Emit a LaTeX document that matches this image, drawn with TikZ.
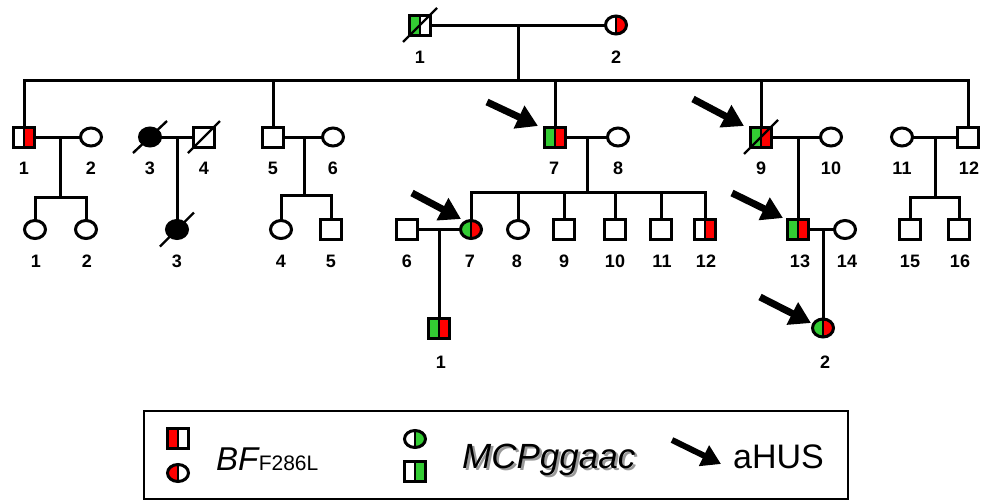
\documentclass[tikz,border=0pt]{standalone}
\usepackage{fontspec}
\setmainfont{Liberation Sans}
\usetikzlibrary{shapes.geometric,arrows.meta}
\definecolor{gsgreen}{RGB}{51,204,51}
\definecolor{gsred}{RGB}{255,0,0}
% text with a soft grey drop shadow behind it
\newcommand{\shadowed}[1]{\rlap{\hspace{2.5pt}\raisebox{-2.5pt}{\textcolor{black!40}{#1}}}#1}
\begin{document}
\begin{tikzpicture}[x=1pt,y=-1pt,
  ind/.style={draw=black,line width=3pt,fill=white,inner sep=0pt,outer sep=0pt},
  male/.style={ind,rectangle,minimum width=21pt,minimum height=20pt},
  female/.style={ind,ellipse,minimum width=21pt,minimum height=18pt},
  affected/.style={fill=black},
  halves/.style 2 args={path picture={
     \fill[#1] (path picture bounding box.south west) rectangle (path picture bounding box.north);
     \fill[#2] (path picture bounding box.south) rectangle (path picture bounding box.north east);
     \draw[line width=1.2pt] (path picture bounding box.south) -- (path picture bounding box.north);}},
  rel/.style={line width=3pt,line cap=rect},
  slash/.style={line width=2.4pt},
  lab/.style={font=\bfseries\fontsize{18}{18}\selectfont,inner sep=0pt},
  proband/.style={line width=7pt,-{Triangle[length=21pt,width=24pt]}},
  legtext/.style={anchor=base west,inner sep=0pt},
]
\useasboundingbox (0,0) rectangle (983,501);

% ---------- generation I ----------
\node[male,halves={gsgreen}{white}] (I1) at (420,25) {};
\node[female,halves={white}{gsred}] (I2) at (616,25) {};

% ---------- generation II ----------
\node[male,halves={white}{gsred}] (II1) at (24,137) {};
\node[female] (II2) at (91,137) {};
\node[female,affected] (II3) at (150,137) {};
\node[male] (II4) at (204,137) {};
\node[male] (II5) at (273,137) {};
\node[female] (II6) at (333,137) {};
\node[male,halves={gsgreen}{gsred}] (II7) at (555,137) {};
\node[female] (II8) at (618,137) {};
\node[male,halves={gsgreen}{gsred}] (II9) at (761,137) {};
\node[female] (II10) at (831,137) {};
\node[female] (II11) at (902,137) {};
\node[male] (II12) at (968,137) {};

% ---------- generation III ----------
\node[female] (III1) at (35,229.5) {};
\node[female] (III2) at (86,229.5) {};
\node[female,affected] (III3) at (177,229.5) {};
\node[female] (III4) at (281,229.5) {};
\node[male] (III5) at (331,229.5) {};
\node[male] (III6) at (407,229.5) {};
\node[female,halves={gsgreen}{gsred}] (III7) at (471,229.5) {};
\node[female] (III8) at (518,229.5) {};
\node[male] (III9) at (564,229.5) {};
\node[male] (III10) at (615,229.5) {};
\node[male] (III11) at (661,229.5) {};
\node[male,halves={white}{gsred}] (III12) at (705,229.5) {};
\node[male,halves={gsgreen}{gsred}] (III13) at (798,229.5) {};
\node[female] (III14) at (845,229.5) {};
\node[male] (III15) at (910,229.5) {};
\node[male] (III16) at (959,229.5) {};

% ---------- generation IV ----------
\node[male,halves={gsgreen}{gsred}] (IV1) at (439,328) {};
\node[female,halves={gsgreen}{gsred}] (IV2) at (823,328) {};

% ---------- deceased marks ----------
\draw[slash] ([shift={(-17,17)}]I1.center) -- ([shift={(17,-17)}]I1.center);
\draw[slash] ([shift={(-17,16)}]II3.center) -- ([shift={(17,-16)}]II3.center);
\draw[slash] ([shift={(-16,16)}]II4.center) -- ([shift={(16,-16)}]II4.center);
\draw[slash] ([shift={(-17,17)}]II9.center) -- ([shift={(17,-17)}]II9.center);
\draw[slash] ([shift={(-17,17)}]III3.center) -- ([shift={(17,-17)}]III3.center);

% ---------- relationship and descent lines ----------
\coordinate (mI) at (518,25);
\coordinate (sibL) at (24,80);
\coordinate (sibR) at (968,80);
\draw[rel] (I1) -- (I2);
\draw[rel] (mI) -- (mI |- sibL);
\draw[rel] (sibL) -- (sibR);
\foreach \n in {II1,II5,II7,II9,II12}
  \draw[rel] (\n.north) -- (\n.north |- sibL);

% II-1 x II-2
\coordinate (m1) at (60,137);
\coordinate (s1) at (60,197);
\draw[rel] (II1) -- (II2);
\draw[rel] (m1) -- (s1);
\draw[rel] (III1.north) -- (III1.north |- s1) -- (III2.north |- s1) -- (III2.north);

% II-3 x II-4
\coordinate (m2) at (177,137);
\draw[rel] (II3) -- (II4);
\draw[rel] (m2) -- (III3.north);

% II-5 x II-6
\coordinate (m3) at (304,137);
\coordinate (s3) at (304,195);
\draw[rel] (II5) -- (II6);
\draw[rel] (m3) -- (s3);
\draw[rel] (III4.north) -- (III4.north |- s3) -- (III5.north |- s3) -- (III5.north);

% II-7 x II-8
\coordinate (m4) at (587,137);
\coordinate (s4) at (587,192);
\draw[rel] (II7) -- (II8);
\draw[rel] (m4) -- (s4);
\draw[rel] (III7.north |- s4) -- (III12.north |- s4);
\foreach \n in {III7,III8,III9,III10,III11,III12}
  \draw[rel] (\n.north) -- (\n.north |- s4);

% III-6 x III-7
\coordinate (m5) at (439,229.5);
\draw[rel] (III6) -- (III7);
\draw[rel] (m5) -- (IV1.north);

% II-9 x II-10
\coordinate (m6) at (798,137);
\draw[rel] (II9) -- (II10);
\draw[rel] (m6) -- (III13.north);

% III-13 x III-14
\coordinate (m7) at (823,229.5);
\draw[rel] (III13) -- (III14);
\draw[rel] (m7) -- (IV2.north);

% II-11 x II-12
\coordinate (m8) at (935,137);
\coordinate (s8) at (935,197);
\draw[rel] (II11) -- (II12);
\draw[rel] (m8) -- (s8);
\draw[rel] (III15.north) -- (III15.north |- s8) -- (III16.north |- s8) -- (III16.north);

% ---------- individual numbers ----------
\node[lab] (lI1) at (420,57) {1};
\node[lab] (lI2) at (616,57) {2};
\foreach \x/\t in {24/1,91/2,150/3,204/4,273/5,333/6,554/7,618/8,761/9,831/10,902/11,969/12}
  \node[lab] (lII\t) at (\x,168) {\t};
\foreach \x/\t in {36/1,87/2,177/3,281/4,331/5,407/6,470/7,517/8,564/9,615/10,662/11,706/12,800/13,847/14,910/15,960/16}
  \node[lab] (lIII\t) at (\x,261) {\t};
\node[lab] (lIV1) at (441,362) {1};
\node[lab] (lIV2) at (825,362) {2};

% ---------- affected (aHUS) markers ----------
\coordinate (p1t) at (487,102);  \coordinate (p1h) at (538,126);
\coordinate (p2t) at (693,99);   \coordinate (p2h) at (744,126);
\coordinate (p3t) at (412,193);  \coordinate (p3h) at (461,219);
\coordinate (p4t) at (732,193);  \coordinate (p4h) at (783,218);
\coordinate (p5t) at (760,297);  \coordinate (p5h) at (811,323);
\foreach \i in {1,...,5}
  \draw[proband] (p\i t) -- (p\i h);

% ---------- legend ----------
\node[draw,line width=2pt,minimum width=704pt,minimum height=88pt,inner sep=0pt] (legend) at (496,455) {};
\node[male,halves={gsred}{white}] (legM1) at (178,438.5) {};
\node[female,minimum height=17pt,halves={gsred}{white}] (legF1) at (178,473) {};
\node[female,minimum height=17pt,halves={white}{gsgreen}] (legF2) at (415,439) {};
\node[male,halves={white}{gsgreen}] (legM2) at (415,471) {};

\node[legtext,font=\itshape\fontsize{33}{33}\selectfont] (bf) at (216,470) {BF};
\node[legtext,font=\fontsize{21}{21}\selectfont] (bfsub) at (bf.base east) {F286L};

\node[legtext,font=\itshape\fontsize{35}{35}\selectfont] (mcp) at (462,468) {\shadowed{MCPggaac}};

\coordinate (lat) at (672,440);
\coordinate (lah) at (721,464);
\draw[line width=6pt,-{Triangle[length=19pt,width=22pt]}] (lat) -- (lah);

\node[legtext,font=\fontsize{34}{34}\selectfont] (ahus) at (733,468) {aHUS};
\end{tikzpicture}
\end{document}
